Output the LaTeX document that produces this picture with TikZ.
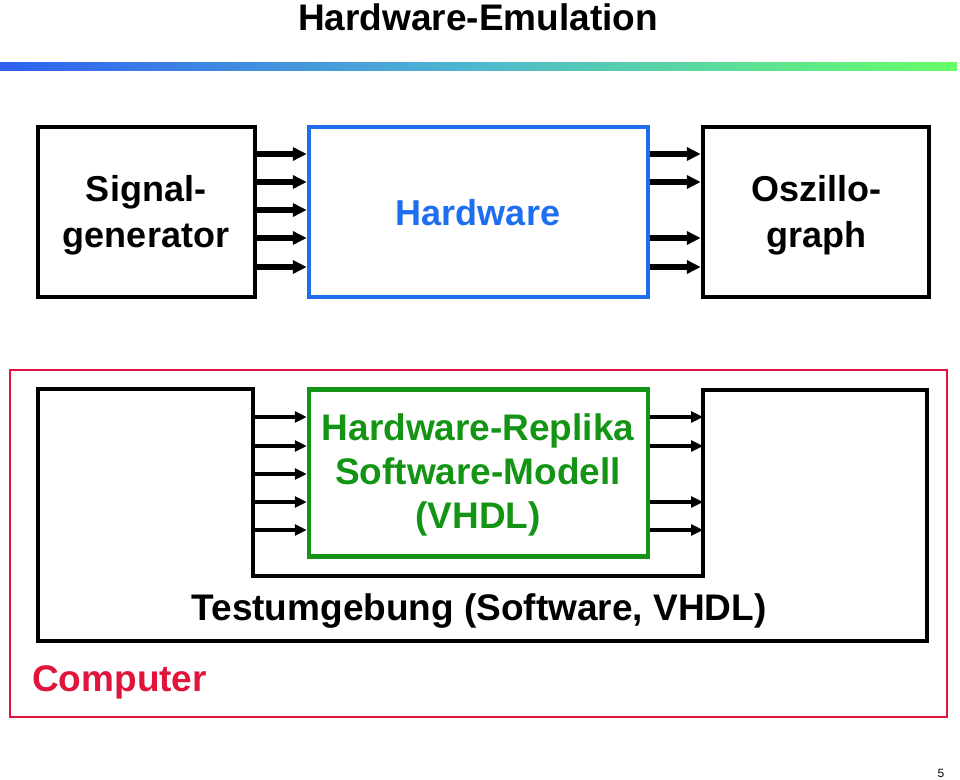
\documentclass[tikz,border=0pt]{standalone}
\usepackage{fontspec}
\setmainfont{Liberation Sans}
\usetikzlibrary{arrows.meta}
\definecolor{hwblue}{HTML}{1E6EF0}
\definecolor{repgreen}{HTML}{149414}
\definecolor{pcred}{HTML}{E0143C}
\definecolor{barblue}{HTML}{3060F0}
\definecolor{barmid}{HTML}{50B8D0}
\definecolor{bargreen}{HTML}{66FF66}
\tikzset{
  blk/.style={draw, line width=4.5pt, rectangle, inner sep=0pt},
  lbl/.style={font=\bfseries\fontsize{36}{46}\selectfont, align=center, inner sep=0pt},
  arrtop/.style={line width=5.5pt, -{Triangle[length=14pt,width=13pt]}},
  arrbot/.style={line width=4.5pt, -{Triangle[length=12pt,width=11pt]}},
}
\begin{document}
\begin{tikzpicture}[x=1pt,y=-1pt]
\useasboundingbox (0,0) rectangle (960,779);
% title
\node[font=\bfseries\fontsize{37}{40}\selectfont, inner sep=0pt] (title) at (478,17) {Hardware-Emulation};
\shade[left color=barblue, right color=bargreen, middle color=barmid] (0,62) rectangle (957,70);
% top row
\node[blk, minimum width=217pt, minimum height=170pt] (sig) at (146.5,212) {};
\node[blk, draw=hwblue, minimum width=339pt, minimum height=170pt] (hw) at (478.5,212) {};
\node[blk, minimum width=226pt, minimum height=170pt] (osz) at (816,212) {};
\node[lbl] (sigt) at (146,215) {Signal-\\generator};
\node[lbl, text=hwblue] (hwt) at (478,213) {Hardware};
\node[lbl] (oszt) at (816,215) {Oszillo-\\graph};
\foreach \y in {154,182,210,238,267}
  \draw[arrtop] (sig.east |- 0,\y) -- (hw.west |- 0,\y);
\foreach \y in {154,182,238,267}
  \draw[arrtop] (hw.east |- 0,\y) -- (osz.west |- 0,\y);
% bottom
\node[draw=pcred, line width=2pt, minimum width=937pt, minimum height=347pt, inner sep=0pt] (pc) at (478.5,543.5) {};
\coordinate (p1) at (38,389);
\coordinate (p2) at (253,389);
\coordinate (p3) at (253,576);
\coordinate (p4) at (703,576);
\coordinate (p5) at (703,390);
\coordinate (p6) at (927,390);
\coordinate (p7) at (927,641);
\coordinate (p8) at (38,641);
\draw[line width=4.5pt, line join=miter] (p1) -- (p2) -- (p3) -- (p4) -- (p5) -- (p6) -- (p7) -- (p8) -- cycle;
\node[blk, draw=repgreen, minimum width=339pt, minimum height=167pt] (rep) at (478.5,473) {};
\node[lbl, text=repgreen, font=\bfseries\fontsize{37}{44}\selectfont] (rept) at (478,475) {Hardware-Replika\\Software-Modell\\(VHDL)};
\foreach \y in {417,446,474,502,530}
  \draw[arrbot] (p2 |- 0,\y) -- (rep.west |- 0,\y);
\foreach \y in {417,446,502,530}
  \draw[arrbot] (rep.east |- 0,\y) -- (p5 |- 0,\y);
\node[lbl, font=\bfseries\fontsize{37}{44}\selectfont] (test) at (479,611) {Testumgebung (Software, VHDL)};
\node[lbl, text=pcred, font=\bfseries\fontsize{37}{44}\selectfont, anchor=west] (comp) at (32,682) {Computer};
\node[font=\fontsize{12}{14}\selectfont, inner sep=0pt] (pg) at (941,773) {5};
\end{tikzpicture}
\end{document}
